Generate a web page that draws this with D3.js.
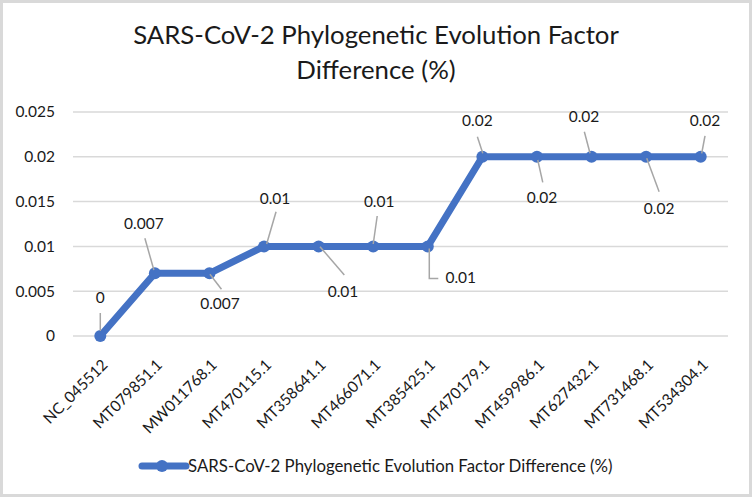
<!DOCTYPE html>
<html>
<head>
<meta charset="utf-8">
<script src="https://cdn.jsdelivr.net/npm/d3@7"></script>
<style>
  html, body { margin: 0; padding: 0; background: #ffffff; }
  svg { display: block; }
  text { font-family: Lato, "Open Sans", sans-serif; fill: #1a1a1a; }
</style>
</head>
<body>
<svg id="chart" width="752" height="497"></svg>
<script>
// ---- data ----
const categories = ["NC_045512", "MT079851.1", "MW011768.1", "MT470115.1", "MT358641.1", "MT466071.1",
  "MT385425.1", "MT470179.1", "MT459986.1", "MT627432.1", "MT731468.1", "MT534304.1"];
const values = [0, 0.007, 0.007, 0.01, 0.01, 0.01, 0.01, 0.02, 0.02, 0.02, 0.02, 0.02];
const valueLabels = ["0", "0.007", "0.007", "0.01", "0.01", "0.01", "0.01", "0.02", "0.02", "0.02", "0.02", "0.02"];
const yTicks = [0, 0.005, 0.01, 0.015, 0.02, 0.025];
const yTickLabels = ["0", "0.005", "0.01", "0.015", "0.02", "0.025"];
const seriesName = "SARS-CoV-2 Phylogenetic Evolution Factor Difference (%)";
const titleLines = ["SARS-CoV-2 Phylogenetic Evolution Factor", "Difference (%)"];

// ---- layout (label placement offsets relative to each point) ----
const labelOffsets = [[0,-38],[-11,-50],[10.5,30],[11,-48],[24.4,45.3],[6,-44.4],[33,31.3],[-5,-35.8],[5,41],[-7.5,-40],[13,51.5],[4.3,-35.8]];
const leaderPaths = [
  [[0,-5],[0,-23]], [[-1,-3.3],[-10,-35]], [[0.5,1],[12,16]], [[2.6,-2.4],[12,-34.7]],
  [[1.4,0.3],[25.7,28.6]], [[0,-2.4],[4,-30.4]], [[1.5,2],[1.5,32],[10.5,32]],
  [[0.4,-3.5],[-5,-20]], [[0.8,3.2],[5.8,25.5]], [[-1.5,-3.5],[-7.2,-25]],
  [[0.6,1.5],[13,35]], [[1,-3.5],[4.3,-21]]
];

const W = 752, H = 497;
const plot = { left: 73, right: 728, top: 112, bottom: 336 };
const blue = "#4472C4";

const svg = d3.select("#chart");

// frame
svg.append("rect").attr("x", 1.5).attr("y", 1.5).attr("width", W - 3).attr("height", H - 3)
  .attr("fill", "#ffffff").attr("stroke", "#d9d9d9").attr("stroke-width", 3);

function fit(sel, target) {
  const w = sel.node().getComputedTextLength();
  const fs = parseFloat(sel.attr("font-size"));
  sel.attr("font-size", fs * target / w);
}

// title
const t1 = svg.append("text").attr("x", 376).attr("y", 44).attr("text-anchor", "middle")
  .attr("font-size", 24).text(titleLines[0]);
fit(t1, 486);
const t2 = svg.append("text").attr("x", 376).attr("y", 79).attr("text-anchor", "middle")
  .attr("font-size", t1.attr("font-size")).text(titleLines[1]);

// scales
const x = d3.scalePoint().domain(categories).range([plot.left, plot.right]).padding(0.5);
const y = d3.scaleLinear().domain([0, 0.025]).range([plot.bottom, plot.top]);

// gridlines
svg.append("g").selectAll("line").data(yTicks).join("line")
  .attr("x1", plot.left).attr("x2", plot.right)
  .attr("y1", d => y(d)).attr("y2", d => y(d))
  .attr("stroke", "#d9d9d9").attr("stroke-width", 1.5);

// y axis labels
const yAxis = d3.axisLeft(y).tickValues(yTicks).tickFormat((d, i) => yTickLabels[i]).tickSize(0).tickPadding(0);
const gy = svg.append("g").attr("transform", `translate(${plot.left - 18},0)`).call(yAxis);
gy.select(".domain").remove();
gy.selectAll("text").attr("font-family", "Lato, sans-serif").attr("font-size", 15.5).attr("fill", "#1a1a1a");

// x axis labels
const xAxis = d3.axisBottom(x).tickSize(0).tickPadding(0);
const gx = svg.append("g").attr("transform", `translate(0,${plot.bottom})`).call(xAxis);
gx.select(".domain").remove();
gx.selectAll("text")
  .attr("font-family", "Lato, sans-serif").attr("font-size", 15.5).attr("fill", "#1a1a1a")
  .attr("text-anchor", "end")
  .attr("y", 0).attr("dy", "0.35em")
  .attr("transform", "translate(4,26) rotate(-45)");

// series line
const pts = categories.map((c, i) => [x(c), y(values[i])]);
svg.append("path").datum(pts)
  .attr("d", d3.line())
  .attr("fill", "none").attr("stroke", blue).attr("stroke-width", 7)
  .attr("stroke-linejoin", "round").attr("stroke-linecap", "round");

svg.append("g").selectAll("circle").data(pts).join("circle")
  .attr("cx", d => d[0]).attr("cy", d => d[1]).attr("r", 6).attr("fill", blue);

// leader lines
svg.append("g").selectAll("path").data(pts).join("path")
  .attr("d", (d, i) => d3.line()(leaderPaths[i].map(o => [d[0] + o[0], d[1] + o[1]])))
  .attr("fill", "none").attr("stroke", "#a6a6a6").attr("stroke-width", 1.5);

// data labels
svg.append("g").selectAll("text").data(pts).join("text")
  .attr("x", (d, i) => d[0] + labelOffsets[i][0])
  .attr("y", (d, i) => d[1] + labelOffsets[i][1])
  .attr("dy", "0.35em").attr("text-anchor", "middle").attr("font-size", 15.5)
  .text((d, i) => valueLabels[i]);

// legend
const lg = svg.append("g");
lg.append("line").attr("x1", 142).attr("x2", 186).attr("y1", 466).attr("y2", 466)
  .attr("stroke", blue).attr("stroke-width", 7).attr("stroke-linecap", "round");
lg.append("circle").attr("cx", 162).attr("cy", 466).attr("r", 6).attr("fill", blue);
const lt = lg.append("text").attr("x", 188).attr("y", 466).attr("dy", "0.35em")
  .attr("font-size", 15.5).text(seriesName);
fit(lt, 425);
</script>
</body>
</html>
